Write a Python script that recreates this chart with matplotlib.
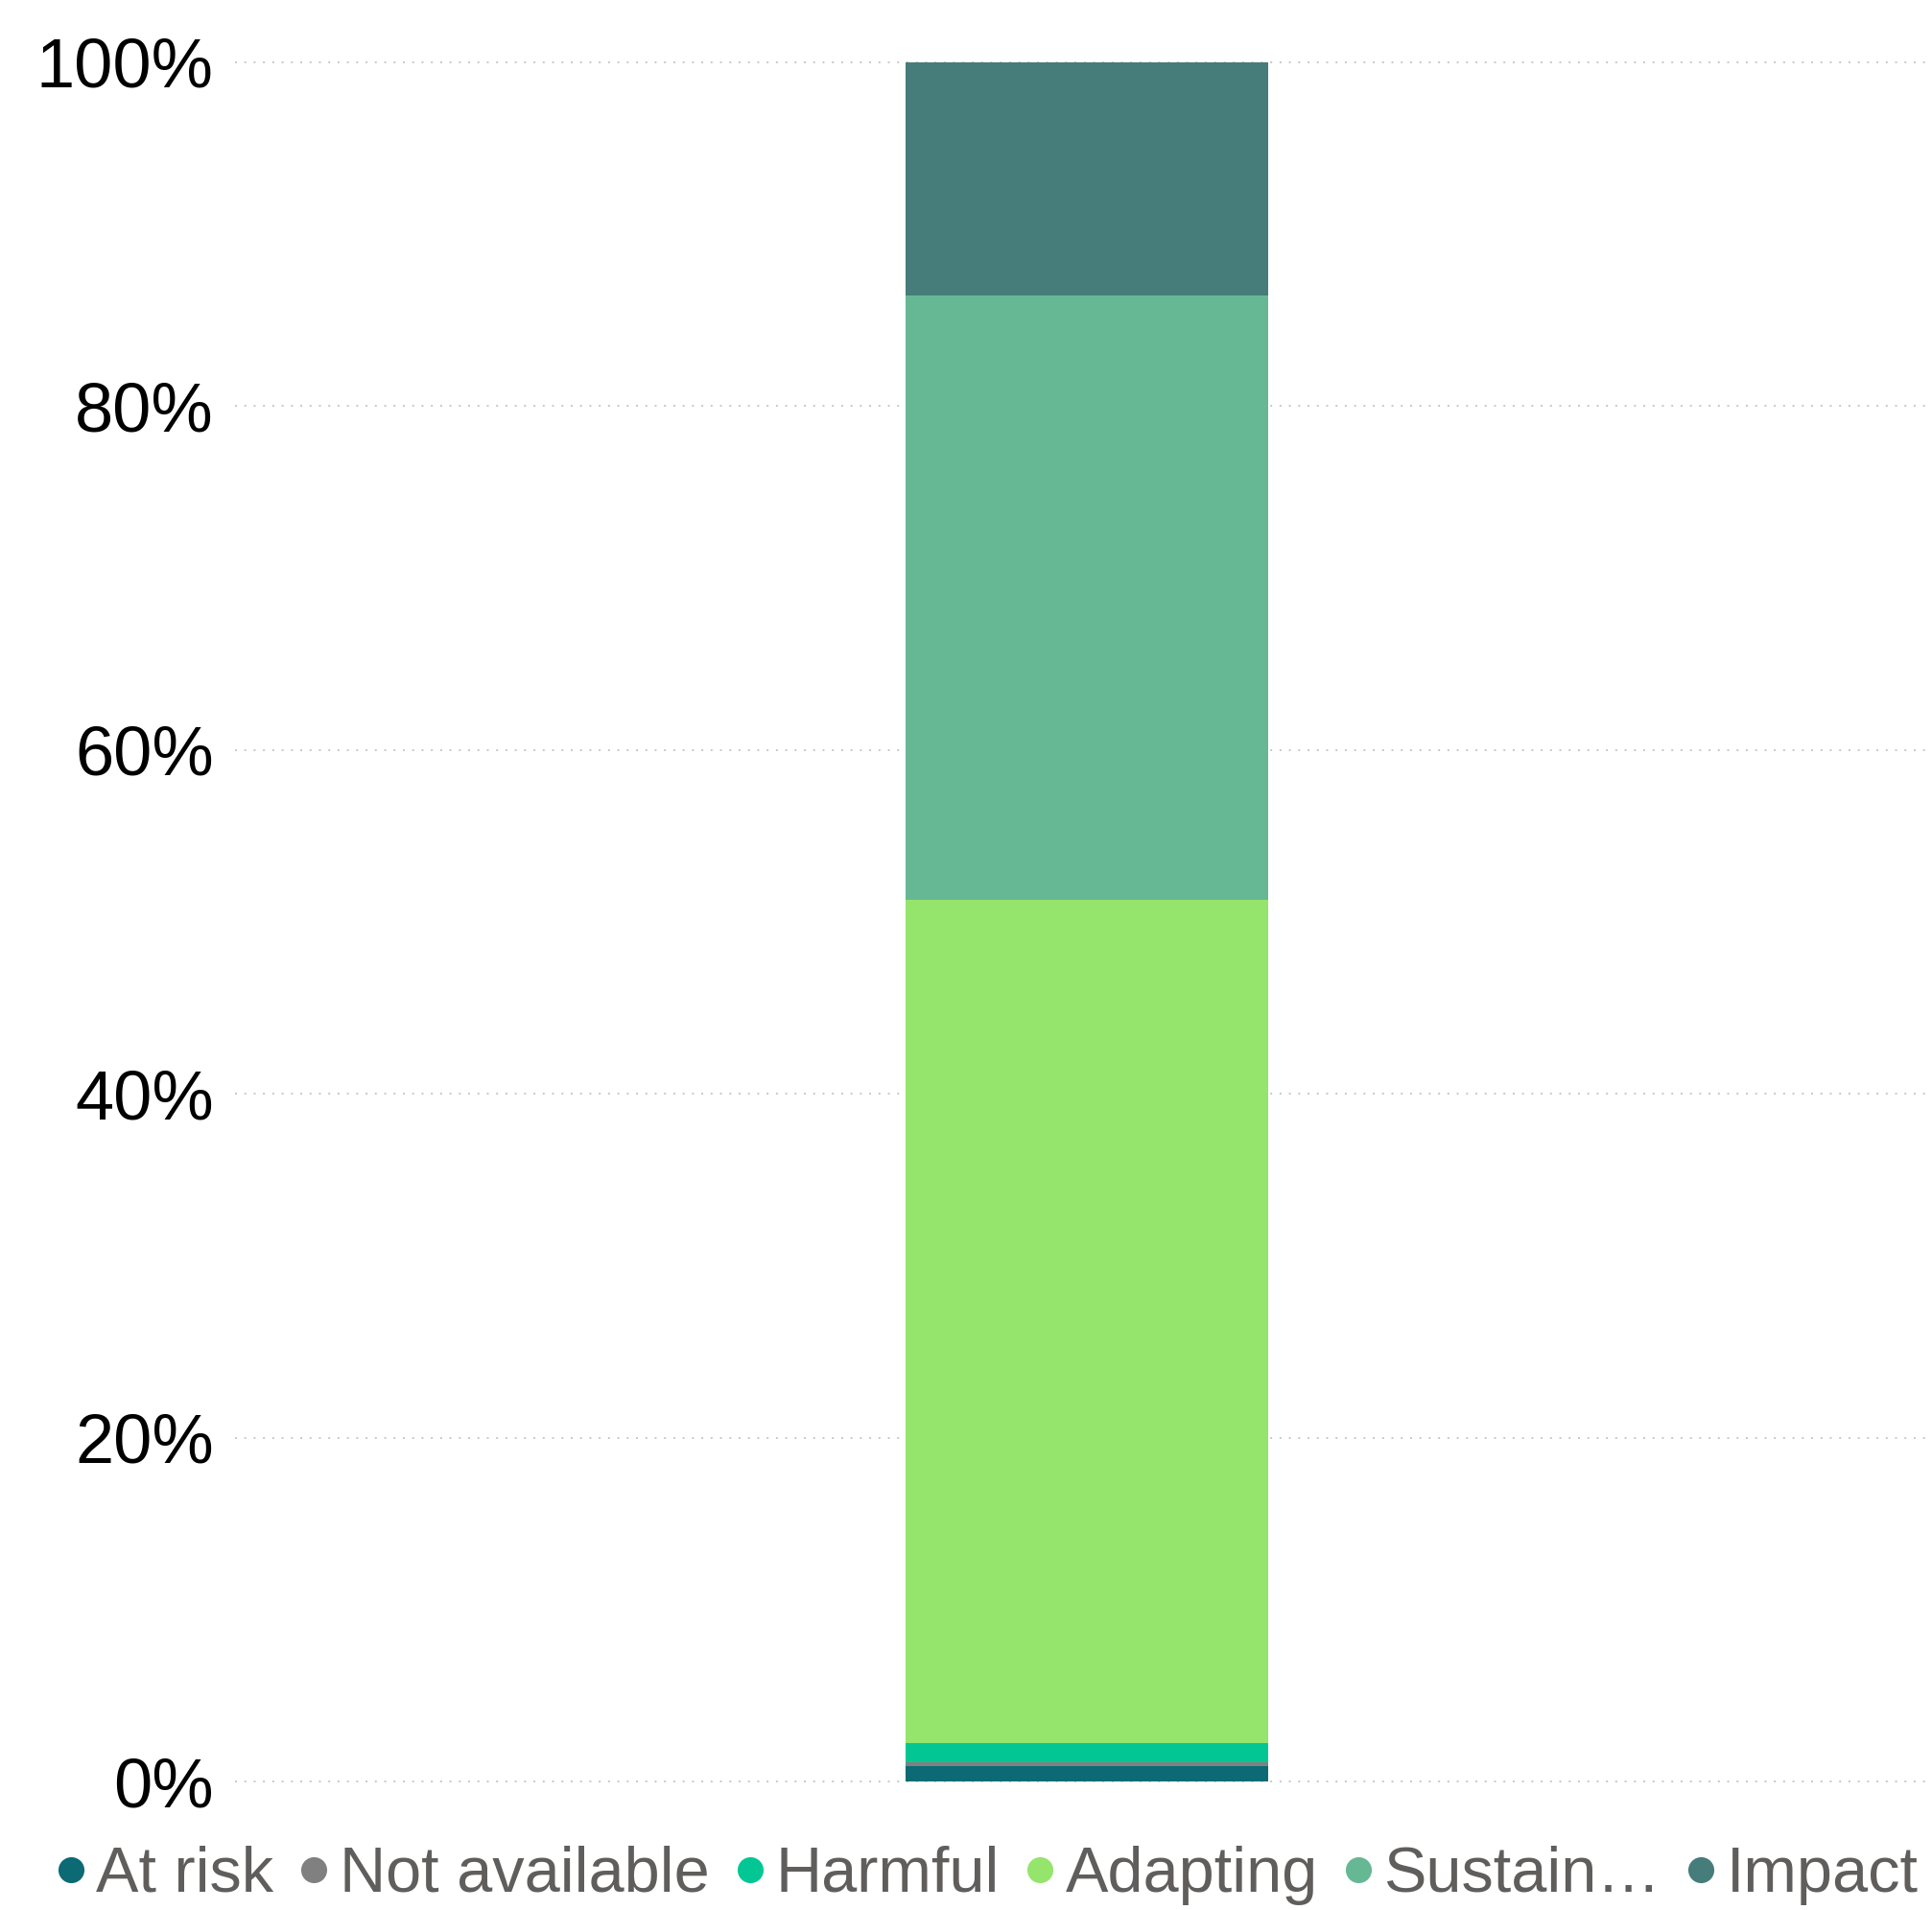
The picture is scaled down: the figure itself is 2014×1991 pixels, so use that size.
import matplotlib
matplotlib.use("Agg")
import matplotlib.pyplot as plt
from matplotlib.lines import Line2D
from matplotlib.ticker import FuncFormatter

plt.rcParams['font.family'] = ['Liberation Sans', 'DejaVu Sans']

# share of holdings per rating, bottom to top (percent)
categories = ['At risk', 'Not available', 'Harmful', 'Adapting', 'Sustain…', 'Impact']
shares = [0.89, 0.21, 1.11, 49.07, 35.16, 13.56]
colors = ['#0B6A74', '#808080', '#02C795', '#95E46C', '#66B894', '#467C7A']
y_ticks = [0, 20, 40, 60, 80, 100]

fig = plt.figure(figsize=(20.15, 19.91), dpi=100)
ax = fig.add_axes([245 / 2015, 1 - 1857 / 1991, 1765 / 2015, 1792 / 1991])

bottom = 0
for cat, val, col in zip(categories, shares, colors):
    ax.bar(0, val, width=1.0, bottom=bottom, color=col, label=cat, zorder=3)
    bottom += val

ax.set_xlim(-2.35, 2.32)
ax.set_ylim(0, 100)
ax.set_yticks(y_ticks)
ax.yaxis.set_major_formatter(FuncFormatter(lambda v, p: f'{v:.0f}%'))
ax.set_xticks([])
ax.tick_params(axis='y', length=0, pad=16, labelsize=52, labelcolor='#000000')
for s in ax.spines.values():
    s.set_visible(False)

ax.grid(axis='y', color='#C8C8C8', linewidth=1.4, linestyle=(0, (1, 4)), zorder=0)
for gl in ax.get_ygridlines():
    gl.set_clip_on(False)

handles = [Line2D([], [], marker='o', linestyle='', markersize=19.5, color=c,
                  markeredgewidth=0) for c in colors]
fig.legend(handles, categories, loc='center left',
           bbox_to_anchor=(57 / 2015, 1 - 1955 / 1991), ncol=6, frameon=False,
           fontsize=48, labelcolor='#605E5C', handlelength=0.5, handletextpad=0.15,
           columnspacing=0.38, borderpad=0, borderaxespad=0)

fig.savefig('out.png', dpi=100)
